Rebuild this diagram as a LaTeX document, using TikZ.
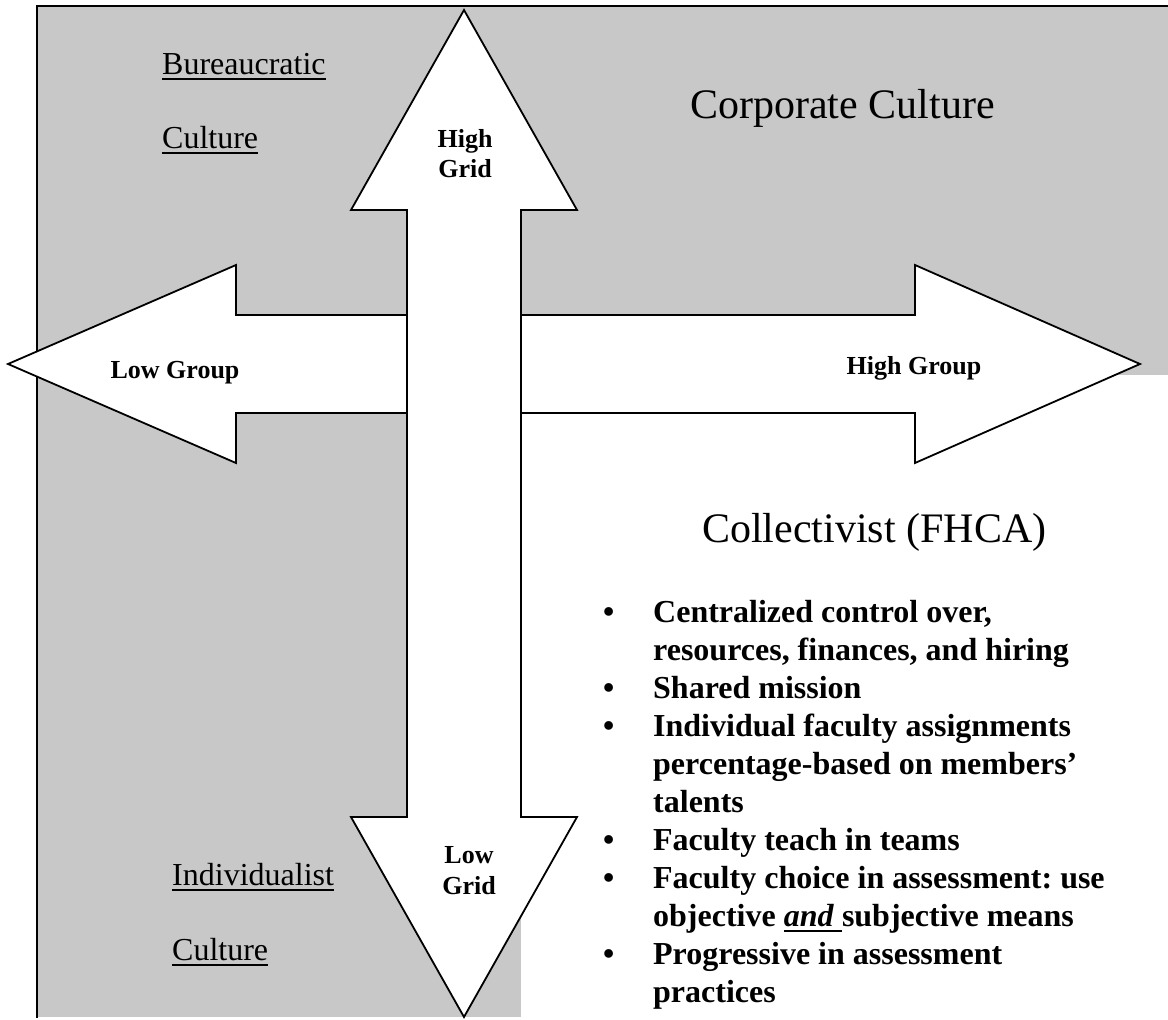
\documentclass[tikz,border=0pt]{standalone}
\usepackage{fontspec}
\setmainfont{Liberation Serif}
\definecolor{panelgray}{RGB}{200,200,200}
% underline drawn as a rule of fixed depth and thickness
\newcommand\ruleunder[1]{\setbox0\hbox{#1}\rlap{\rule[-6pt]{\wd0}{2.2pt}}\box0}
\frenchspacing
\begin{document}
\begin{tikzpicture}[x=1pt,y=-1pt,
  panel/.style={fill=panelgray,draw=none},
  frameline/.style={line width=2.2pt,line cap=rect},
  arrowshape/.style={fill=white,draw=black,line width=1.8pt,line join=miter},
  axislabel/.style={font=\bfseries\fontsize{26}{31}\selectfont,inner sep=0pt,anchor=base},
  culture/.style={font=\fontsize{32}{38}\selectfont,inner sep=0pt,anchor=base west},
  heading/.style={font=\fontsize{42}{50}\selectfont,inner sep=0pt,anchor=base west},
  uline/.style={line width=2.2pt}]
\useasboundingbox (0,0) rectangle (1168,1020);

% quadrant backgrounds
\fill[panel] (37,6) rectangle (1168,1017);
\fill[white] (521,375) rectangle (1168,1020);

% frame
\coordinate (ftl) at (37,6);
\coordinate (ftr) at (1168,6);
\coordinate (fbl) at (37,1017);
\draw[frameline] (fbl) -- (ftl) -- (ftr);

% group axis (horizontal double arrow)
\coordinate (lgtip) at (8,364);
\coordinate (hgtip) at (1140,364);
\draw[arrowshape] (lgtip) -- (236,265) -- (236,315) -- (915,315) -- (915,265)
  -- (hgtip) -- (915,463) -- (915,413) -- (236,413) -- (236,463) -- cycle;

% grid axis (vertical double arrow)
\coordinate (hgrtip) at (464,10);
\coordinate (lgrtip) at (464,1017);
\draw[arrowshape] (hgrtip) -- (577,210) -- (521,210) -- (521,817) -- (577,817)
  -- (lgrtip) -- (351,817) -- (407,817) -- (407,210) -- (351,210) -- cycle;

% axis labels
\node[axislabel] (lowgroup) at (175,378) {Low Group};
\node[axislabel] (highgroup) at (914,374) {High Group};
\node[axislabel] (highgrid1) at (465,147) {High};
\node[axislabel] (highgrid2) at (465,177) {Grid};
\node[axislabel] (lowgrid1) at (469,863) {Low};
\node[axislabel] (lowgrid2) at (469,894) {Grid};

% quadrant names
\node[culture] (bur) at (162,74) {Bureaucratic};
\node[culture] (burc) at (162,148) {Culture};
\node[culture] (ind) at (172,885) {Individualist};
\node[culture] (indc) at (172,960) {Culture};
\foreach \n in {bur,burc,ind,indc}
  \draw[uline] ([yshift=-5pt]\n.base west) -- ([yshift=-5pt]\n.base east);

\node[heading] (corp) at (690,118) {Corporate Culture};
\node[heading] (coll) at (702,542) {Collectivist (FHCA)};

% characteristics of the collectivist quadrant
\node[inner sep=0pt,anchor=base west] (traits) at (603,622) {%
  \parbox[t]{560pt}{\fontsize{32}{38}\selectfont\bfseries\raggedright
    \def\itm{\hangindent=50pt\hangafter=1\noindent\makebox[50pt][l]{\textbullet}}%
    \itm Centralized control over,\newline resources, finances, and hiring\par
    \itm Shared mission\par
    \itm Individual faculty assignments\newline percentage-based on members’\newline talents\par
    \itm Faculty teach in teams\par
    \itm Faculty choice in assessment: use\newline objective \ruleunder{\textit{and}\ }subjective means\par
    \itm Progressive in assessment\newline practices\par}};
\end{tikzpicture}
\end{document}
